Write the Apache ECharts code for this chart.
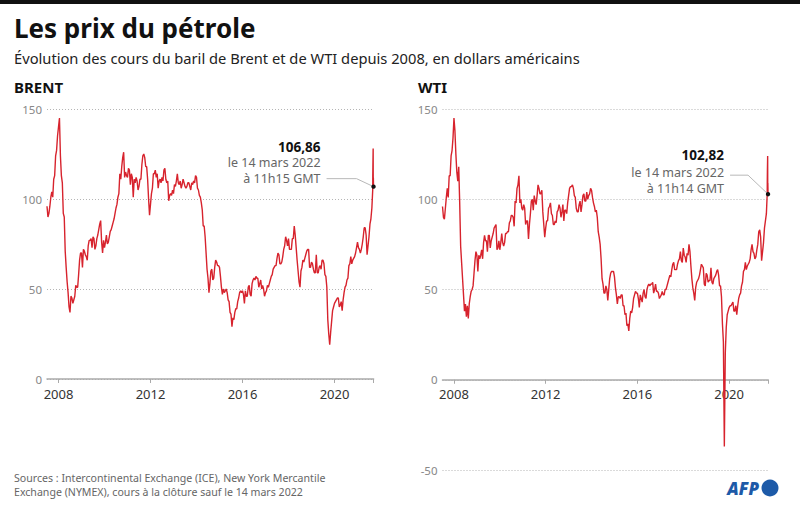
<!DOCTYPE html>
<html>
<head>
<meta charset="utf-8">
<script src="https://cdn.jsdelivr.net/npm/echarts@6.0.0/dist/echarts.min.js"></script>
<style>
html,body{margin:0;padding:0;background:#fff;}
#main{width:800px;height:508px;}
</style>
</head>
<body>
<div id="main"></div>
<script>
// ---- DATA ----
// Semi-monthly closing prices (1st and 16th of each month), from January 2008 to mid-February 2022
const startYear = 2008;
const stepsPerYear = 24;

const brentValues = [
  // 2008
  96, 90, 92, 96, 101, 104, 101, 111, 113, 124, 127, 135, 140, 145, 124, 113, 109, 92, 90, 71, 62, 54, 48, 40,
  // 2009
  37, 46, 45, 42, 44, 46, 52, 51, 51, 58, 66, 70, 70, 62, 72, 71, 69, 68, 66, 74, 77, 77, 78, 73,
  // 2010
  79, 78, 72, 74, 78, 80, 83, 86, 88, 76, 70, 77, 73, 76, 80, 75, 76, 79, 82, 83, 85, 87, 89, 92,
  // 2011
  95, 97, 101, 103, 114, 111, 118, 123, 126, 112, 115, 113, 112, 117, 116, 108, 114, 112, 101, 111, 109, 112, 110, 105,
  // 2012
  107, 111, 111, 119, 124, 125, 123, 118, 118, 111, 100, 91, 97, 103, 106, 114, 114, 116, 112, 114, 106, 110, 111, 109,
  // 2013
  112, 110, 116, 117, 111, 109, 110, 99, 102, 103, 102, 105, 103, 108, 107, 110, 114, 109, 108, 110, 106, 108, 111, 109,
  // 2014
  107, 106, 107, 109, 109, 107, 105, 109, 108, 110, 109, 113, 112, 106, 105, 102, 101, 98, 94, 85, 85, 79, 70, 61,
  // 2015
  56, 48, 53, 60, 61, 55, 56, 62, 66, 65, 63, 63, 62, 57, 51, 47, 50, 48, 49, 50, 48, 44, 43, 37,
  // 2016
  36, 29, 34, 33, 37, 39, 39, 43, 45, 48, 49, 48, 49, 47, 42, 49, 46, 46, 51, 52, 47, 46, 53, 55,
  // 2017
  56, 55, 57, 56, 56, 51, 53, 55, 50, 52, 50, 46, 48, 49, 52, 51, 53, 55, 57, 58, 61, 62, 63, 63,
  // 2018
  67, 70, 69, 64, 64, 65, 68, 72, 74, 79, 77, 74, 78, 72, 72, 72, 78, 78, 85, 80, 73, 66, 60, 54,
  // 2019
  51, 60, 62, 66, 65, 67, 69, 71, 72, 72, 62, 62, 65, 64, 61, 59, 59, 69, 59, 59, 62, 63, 61, 66,
  // 2020
  66, 64, 58, 57, 51, 33, 25, 19, 26, 32, 38, 40, 42, 43, 44, 45, 45, 40, 41, 43, 38, 44, 48, 51,
  // 2021
  52, 55, 56, 63, 64, 68, 64, 66, 67, 68, 70, 73, 76, 73, 72, 70, 72, 75, 79, 84, 84, 80, 69, 74,
  // 2022 (Jan, Feb)
  79, 86, 89, 95
];
// March 2022, [day of month, price]
const brentMarch2022 = [[1, 105], [2, 113], [4, 118], [8, 128], [9, 111], [11, 112], [14, 106.86]];

const wtiValues = [
  // 2008
  96, 90, 89, 95, 101, 106, 101, 113, 113, 124, 127, 134, 145, 138, 125, 115, 110, 118, 98, 74, 65, 56, 47, 38,
  // 2009
  42, 35, 41, 34, 42, 46, 49, 50, 52, 59, 66, 71, 69, 60, 69, 67, 69, 72, 67, 76, 80, 77, 77, 71,
  // 2010
  80, 80, 73, 77, 79, 81, 84, 85, 86, 72, 73, 77, 72, 76, 81, 76, 74, 76, 81, 81, 82, 82, 87, 88,
  // 2011
  91, 91, 90, 85, 99, 98, 106, 108, 113, 98, 100, 95, 94, 97, 95, 86, 88, 88, 78, 86, 92, 99, 100, 94,
  // 2012
  102, 99, 97, 102, 108, 106, 103, 103, 105, 93, 86, 79, 84, 88, 88, 95, 96, 98, 92, 91, 86, 86, 88, 87,
  // 2013
  93, 94, 97, 95, 90, 93, 97, 88, 94, 94, 92, 98, 102, 106, 107, 107, 108, 106, 102, 101, 95, 93, 93, 97,
  // 2014
  99, 93, 97, 102, 103, 99, 99, 104, 100, 102, 103, 106, 105, 101, 98, 96, 93, 94, 90, 82, 79, 75, 67, 56,
  // 2015
  53, 48, 48, 52, 50, 44, 50, 56, 59, 60, 60, 60, 57, 51, 47, 42, 46, 46, 45, 47, 47, 41, 41, 36,
  // 2016
  37, 30, 31, 27, 34, 38, 37, 40, 45, 47, 49, 48, 48, 45, 40, 47, 45, 43, 48, 50, 46, 45, 50, 52,
  // 2017
  53, 52, 53, 53, 54, 48, 50, 53, 49, 49, 48, 45, 46, 47, 49, 47, 47, 50, 50, 52, 54, 56, 58, 57,
  // 2018
  61, 64, 65, 61, 61, 61, 64, 66, 67, 71, 66, 65, 73, 69, 68, 65, 70, 69, 75, 71, 63, 56, 51, 48,
  // 2019
  44, 51, 54, 55, 56, 58, 61, 64, 63, 62, 53, 52, 59, 58, 54, 55, 55, 62, 54, 53, 56, 57, 58, 60,
  // 2020
  61, 58, 52, 52, 46, 31, 21, -37, 15, 29, 36, 38, 40, 41, 41, 42, 43, 38, 38, 41, 36, 41, 45, 47,
  // 2021
  48, 52, 54, 60, 61, 65, 61, 63, 64, 65, 67, 72, 75, 71, 70, 67, 68, 72, 75, 82, 83, 79, 66, 71,
  // 2022 (Jan, Feb)
  76, 84, 88, 92
];
const wtiMarch2022 = [[1, 103], [2, 110], [4, 116], [8, 124], [9, 108], [11, 109], [14, 102.82]];

const tickYears = [2008, 2012, 2016, 2020];
const brentTicks = [0, 50, 100, 150];
const wtiTicks = [-50, 0, 50, 100, 150];
const xMax = 2022.2;

const brentNote = ['106,86', 'le 14 mars 2022', 'à 11h15 GMT'];
const wtiNote = ['102,82', 'le 14 mars 2022', 'à 11h14 GMT'];

// ---- BUILD ----
function toPoints(values, march) {
  const pts = values.map((v, i) => [startYear + i / stepsPerYear, v]);
  march.forEach(([d, v]) => pts.push([2022 + (58 + d) / 365, v]));
  return pts;
}
const brentData = toPoints(brentValues, brentMarch2022);
const wtiData = toPoints(wtiValues, wtiMarch2022);

const FONT = '"Noto Sans", "Open Sans", sans-serif';
const RED = '#d7232d';
const labelPos = tickYears.map(y => y + 0.5);

const grids = [
  { left: 47, top: 109, width: 326.6, height: 270 },
  { left: 442.5, top: 109, width: 325.6, height: 361 }
];
const yRanges = [brentTicks, wtiTicks];

function xAxis(gridIndex) {
  const t = yRanges[gridIndex];
  const g = grids[gridIndex];
  // shift the axis up to the zero line of its grid
  const zeroOffset = -g.height * (0 - t[0]) / (t[t.length - 1] - t[0]);
  return {
    type: 'value', gridIndex, min: startYear, max: xMax, position: 'bottom', offset: zeroOffset,
    axisLine: { show: true, onZero: false, lineStyle: { color: '#aaa', width: 1.5 } },
    axisTick: { show: true, customValues: labelPos.concat([xMax]), length: 4, lineStyle: { color: '#aaa', width: 1 } },
    axisLabel: { show: true, customValues: labelPos, formatter: v => String(Math.floor(v)),
      color: '#333', fontSize: 13, fontFamily: FONT, margin: 8 },
    splitLine: { show: false }
  };
}
function yAxis(gridIndex, ticks) {
  return {
    type: 'value', gridIndex, min: ticks[0], max: ticks[ticks.length - 1], interval: 50,
    axisLine: { show: false }, axisTick: { show: false },
    axisLabel: { color: '#888', fontSize: 11.5, fontFamily: FONT, margin: 5 },
    splitLine: { show: true, lineStyle: { color: '#b5b5b5', width: 1, type: [1, 2] } }
  };
}

const chart = echarts.init(document.getElementById('main'), null, { renderer: 'svg', width: 800, height: 508 });

const option = {
  animation: false,
  backgroundColor: '#fff',
  grid: grids,
  xAxis: [xAxis(0), xAxis(1)],
  yAxis: [yAxis(0, brentTicks), yAxis(1, wtiTicks)],
  series: [
    { name: 'Brent', type: 'line', xAxisIndex: 0, yAxisIndex: 0, data: brentData, showSymbol: false, symbol: 'none',
      lineStyle: { color: RED, width: 1.4 }, z: 3 },
    { name: 'WTI', type: 'line', xAxisIndex: 1, yAxisIndex: 1, data: wtiData, showSymbol: false, symbol: 'none',
      lineStyle: { color: RED, width: 1.4 }, z: 3 }
  ]
};
chart.setOption(option);

function note(gridIndex, point, lines, o) {
  const p = chart.convertToPixel({ gridIndex }, point);
  const els = [];
  els.push({ type: 'polyline', z: 10, shape: { points: [[p[0] + o.lx0, p[1] + o.ly], [p[0] + o.lx1, p[1] + o.ly], [p[0], p[1]]] },
    style: { stroke: '#b8b8b8', lineWidth: 1, fill: null } });
  els.push({ type: 'circle', z: 11, shape: { cx: p[0], cy: p[1], r: 2.2 }, style: { fill: '#111' } });
  lines.forEach((t, i) => {
    els.push({ type: 'text', z: 10, x: p[0] + o.tx, y: p[1] + o.ty[i],
      style: { text: t, align: 'right', verticalAlign: 'middle', font: (i === 0 ? 'bold 13.5px ' : '12.5px ') + FONT,
        fill: i === 0 ? '#111' : '#666' } });
  });
  return els;
}

const graphics = [
  { type: 'rect', shape: { x: 0, y: 0, width: 800, height: 4 }, style: { fill: '#111' } },
  { type: 'text', x: 14, y: 28, style: { text: 'Les prix du pétrole', font: 'bold 26px ' + FONT, fill: '#111', verticalAlign: 'middle' } },
  { type: 'text', x: 14, y: 58, style: { text: 'Évolution des cours du baril de Brent et de WTI depuis 2008, en dollars américains', font: '14.7px ' + FONT, fill: '#222', verticalAlign: 'middle' } },
  { type: 'text', x: 14, y: 87, style: { text: 'BRENT', font: 'bold 15px ' + FONT, fill: '#111', verticalAlign: 'middle' } },
  { type: 'text', x: 418, y: 87, style: { text: 'WTI', font: 'bold 15px ' + FONT, fill: '#111', verticalAlign: 'middle' } },
  { type: 'text', x: 14, y: 478, style: { text: 'Sources : Intercontinental Exchange (ICE), New York Mercantile', font: '10.6px ' + FONT, fill: '#666', verticalAlign: 'middle' } },
  { type: 'text', x: 14, y: 492, style: { text: 'Exchange (NYMEX), cours à la clôture sauf le 14 mars 2022', font: '10.6px ' + FONT, fill: '#666', verticalAlign: 'middle' } },
  { type: 'text', x: 759, y: 488, style: { text: 'AFP', font: 'italic 900 17px ' + FONT, fill: '#1d5aa8', align: 'right', verticalAlign: 'middle' } },
  { type: 'circle', shape: { cx: 770, cy: 488, r: 8.5 }, style: { fill: '#1d5aa8' } }
].concat(
  note(0, brentData[brentData.length - 1], brentNote, { lx0: -47, lx1: -17, ly: -8, tx: -53, ty: [-40, -24, -8] }),
  note(1, wtiData[wtiData.length - 1], wtiNote, { lx0: -38, lx1: -20, ly: -19, tx: -44, ty: [-39, -22, -6] })
);
chart.setOption({ graphic: graphics });
</script>
</body>
</html>
